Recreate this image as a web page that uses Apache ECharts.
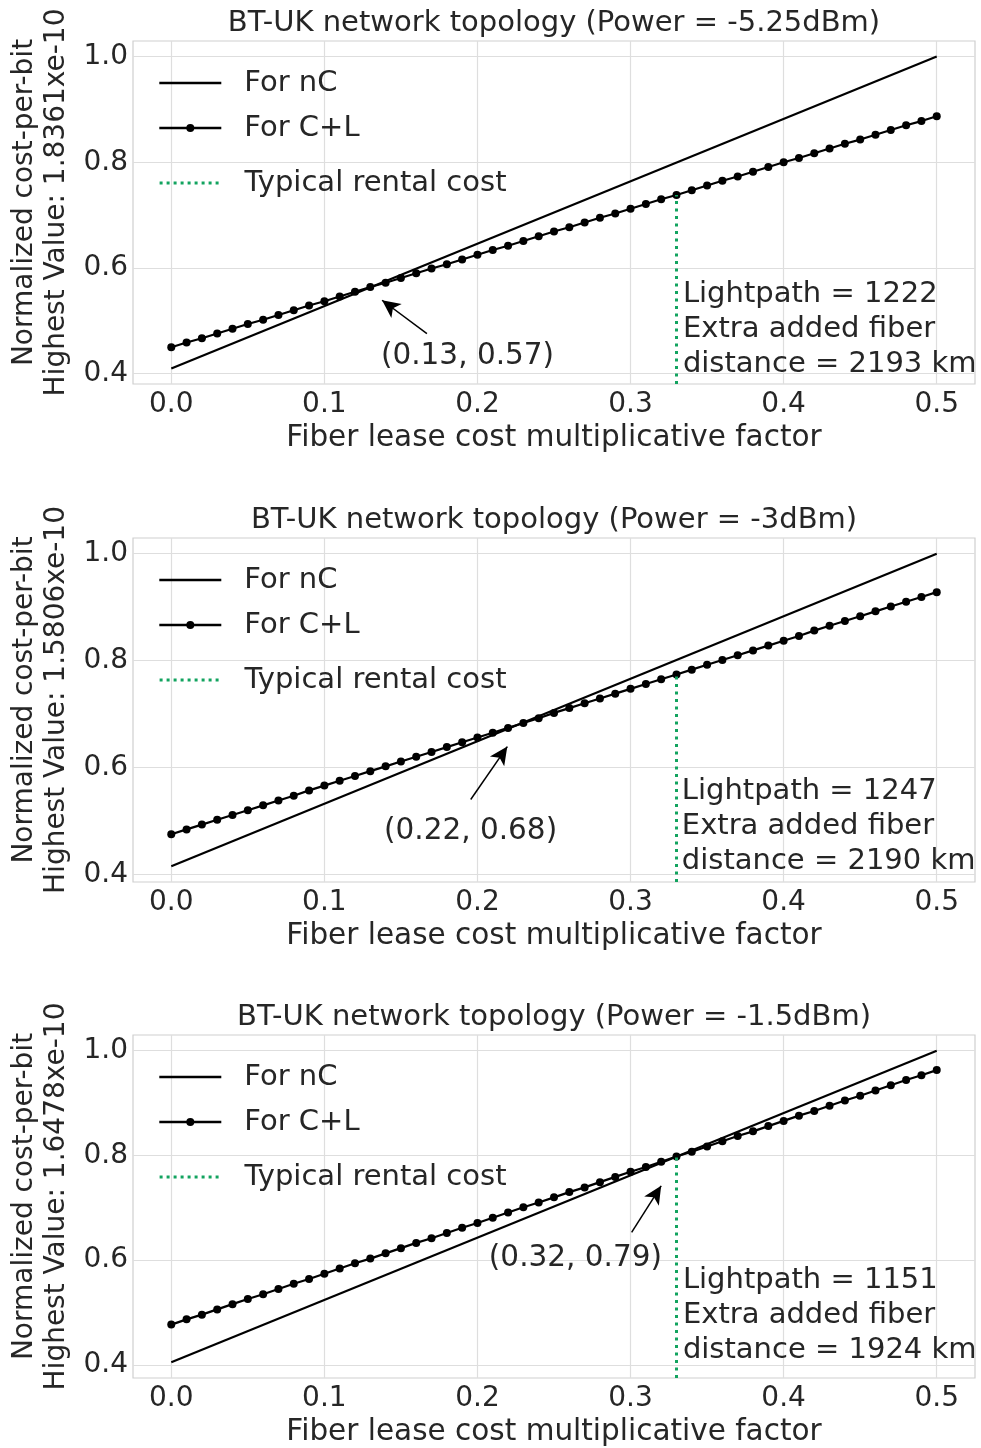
<!DOCTYPE html>
<html>
<head>
<meta charset="utf-8">
<script src="https://cdn.jsdelivr.net/npm/echarts@6/dist/echarts.min.js"></script>
<style>
  html, body { margin: 0; padding: 0; background: #ffffff; }
  #chart { width: 981px; height: 1448px; }
</style>
</head>
<body>
<div id="chart"></div>
<script>
// Fiber lease cost multiplicative factor (x samples of the C+L curves)
const factor = [
  0.00, 0.01, 0.02, 0.03, 0.04, 0.05, 0.06, 0.07, 0.08, 0.09,
  0.10, 0.11, 0.12, 0.13, 0.14, 0.15, 0.16, 0.17, 0.18, 0.19,
  0.20, 0.21, 0.22, 0.23, 0.24, 0.25, 0.26, 0.27, 0.28, 0.29,
  0.30, 0.31, 0.32, 0.33, 0.34, 0.35, 0.36, 0.37, 0.38, 0.39,
  0.40, 0.41, 0.42, 0.43, 0.44, 0.45, 0.46, 0.47, 0.48, 0.49,
  0.50
];

// Normalized cost-per-bit for C+L, one array per launch power
const clPower525 = [
  0.450, 0.459, 0.467, 0.476, 0.485, 0.494, 0.502, 0.511, 0.520, 0.529,
  0.537, 0.546, 0.555, 0.564, 0.572, 0.581, 0.590, 0.599, 0.607, 0.616,
  0.625, 0.634, 0.642, 0.651, 0.660, 0.669, 0.677, 0.686, 0.695, 0.703,
  0.712, 0.721, 0.730, 0.738, 0.747, 0.756, 0.765, 0.773, 0.782, 0.791,
  0.800, 0.808, 0.817, 0.826, 0.835, 0.843, 0.852, 0.861, 0.870, 0.878,
  0.887
];
const clPower3 = [
  0.475, 0.484, 0.493, 0.502, 0.511, 0.520, 0.529, 0.538, 0.547, 0.557,
  0.566, 0.575, 0.584, 0.593, 0.602, 0.611, 0.620, 0.629, 0.638, 0.647,
  0.656, 0.665, 0.674, 0.683, 0.692, 0.702, 0.711, 0.720, 0.729, 0.738,
  0.747, 0.756, 0.765, 0.774, 0.783, 0.792, 0.801, 0.810, 0.819, 0.828,
  0.837, 0.846, 0.856, 0.865, 0.874, 0.883, 0.892, 0.901, 0.910, 0.919,
  0.928
];
const clPower15 = [
  0.477, 0.487, 0.496, 0.506, 0.516, 0.526, 0.535, 0.545, 0.555, 0.564,
  0.574, 0.584, 0.594, 0.603, 0.613, 0.623, 0.633, 0.642, 0.652, 0.662,
  0.671, 0.681, 0.691, 0.701, 0.710, 0.720, 0.730, 0.739, 0.749, 0.759,
  0.769, 0.778, 0.788, 0.798, 0.807, 0.817, 0.827, 0.837, 0.846, 0.856,
  0.866, 0.876, 0.885, 0.895, 0.905, 0.914, 0.924, 0.934, 0.944, 0.953,
  0.963
];

// nC is a straight line: values at factor 0 and 0.5
const ncFactor = [0.0, 0.5];
const ncPower525 = [0.410, 1.000];
const ncPower3 = [0.415, 1.000];
const ncPower15 = [0.405, 1.000];

// Per-panel labels
const powers = ['-5.25', '-3', '-1.5'];
const highestValues = ['1.8361', '1.5806', '1.6478'];
const lightpaths = [1222, 1247, 1151];
const extraDistanceKm = [2193, 2190, 1924];
const crossings = [[0.13, 0.57], [0.22, 0.68], [0.32, 0.79]];
const typicalRental = 0.33;

// Axis ticks
const xTicks = [0.0, 0.1, 0.2, 0.3, 0.4, 0.5];
const yTicks = [0.4, 0.6, 0.8, 1.0];

const clSeries = [clPower525, clPower3, clPower15];
const ncSeries = [ncPower525, ncPower3, ncPower15];

// Layout
const FONT = 'DejaVu Sans';
const TEXT = '#262626';
const gridTops = [41, 538, 1035];
const gridHeights = [343, 344, 344];
const gridLeft = 133, gridWidth = 842;
const xRange = [-0.025, 0.525];
const yRanges = [[0.3805, 1.0295], [0.3856, 1.0293], [0.3750, 1.0300]];
const GREEN = '#12a35f';

// annotation geometry per panel (data coordinates): arrow tail, arrow tip, label centre, info text anchor
const arrowGeom = [
  { tail: [0.167, 0.476], tip: [0.1377, 0.539], label: [0.1935, 0.432], info: [0.3342, 0.4840] },
  { tail: [0.1956, 0.540], tip: [0.2195, 0.639], label: [0.1955, 0.4810], info: [0.3335, 0.4890] },
  { tail: [0.3007, 0.653], tip: [0.3200, 0.742], label: [0.2640, 0.604], info: [0.3342, 0.4950] }
];

const grid = [], xAxis = [], yAxis = [], series = [], title = [], legend = [];

for (let p = 0; p < 3; p++) {
  const cl = clSeries[p];
  const nc = ncSeries[p];
  const g = arrowGeom[p];

  grid.push({
    left: gridLeft, width: gridWidth, top: gridTops[p], height: gridHeights[p],
    show: true, borderColor: '#cfcfcf', borderWidth: 1.2, backgroundColor: 'transparent'
  });

  title.push({
    text: 'BT-UK network topology (Power = ' + powers[p] + 'dBm)',
    left: gridLeft + gridWidth / 2, top: gridTops[p] - 35, textAlign: 'center',
    padding: 0,
    textStyle: { fontFamily: FONT, fontSize: 29, fontWeight: 'normal', color: TEXT, lineHeight: 34 }
  });

  xAxis.push({
    type: 'value', gridIndex: p, min: xRange[0], max: xRange[1],
    name: 'Fiber lease cost multiplicative factor',
    nameLocation: 'middle', nameGap: 39,
    nameTextStyle: { fontFamily: FONT, fontSize: 29.5, color: TEXT },
    axisLine: { show: false },
    axisTick: { show: false, customValues: xTicks },
    axisLabel: {
      customValues: xTicks, fontFamily: FONT, fontSize: 28, color: TEXT, margin: 7,
      formatter: v => v.toFixed(1)
    },
    splitLine: { show: true, lineStyle: { color: '#dedede', width: 1.2 } }
  });

  yAxis.push({
    type: 'value', gridIndex: p, min: yRanges[p][0], max: yRanges[p][1],
    name: 'Normalized cost-per-bit\nHighest Value: ' + highestValues[p] + 'xe-10',
    nameLocation: 'middle', nameRotate: 90, nameGap: 55,
    nameTextStyle: { fontFamily: FONT, fontSize: 28, color: TEXT, lineHeight: 32, padding: [0, 0, 0, 20] },
    axisLine: { show: false },
    axisTick: { show: false, customValues: yTicks },
    axisLabel: {
      customValues: yTicks, fontFamily: FONT, fontSize: 28, color: TEXT, margin: 5,
      formatter: v => v.toFixed(1)
    },
    splitLine: { show: true, lineStyle: { color: '#dedede', width: 1.2 } }
  });

  // nC straight line
  series.push({
    name: 'For nC', type: 'line', xAxisIndex: p, yAxisIndex: p,
    data: ncFactor.map((x, i) => [x, nc[i]]),
    symbol: 'none', lineStyle: { color: '#000000', width: 2.2 }, itemStyle: { color: '#000000' },
    z: 3
  });

  // C+L with markers, also carries the crossing annotation
  series.push({
    name: 'For C+L', type: 'line', xAxisIndex: p, yAxisIndex: p,
    data: factor.map((x, i) => [x, cl[i]]),
    symbol: 'circle', symbolSize: 8, showSymbol: true,
    lineStyle: { color: '#000000', width: 2.2 }, itemStyle: { color: '#000000' },
    z: 4,
    markLine: {
      silent: true, animation: false,
      symbol: ['none', 'arrow'], symbolSize: [13, 18],
      lineStyle: { color: '#000000', width: 1.5, type: 'solid' },
      label: { show: false },
      data: [[{ coord: g.tail }, { coord: g.tip }]]
    },
    markPoint: {
      silent: true, animation: false,
      symbol: 'circle', symbolSize: 0,
      data: [
        {
          coord: g.label,
          label: {
            show: true, position: 'inside', align: 'center', verticalAlign: 'middle',
            formatter: '(' + crossings[p][0].toFixed(2) + ', ' + crossings[p][1].toFixed(2) + ')',
            fontFamily: FONT, fontSize: 29.5, color: TEXT
          }
        },
        {
          coord: g.info,
          label: {
            show: true, position: 'right', distance: 0, align: 'left', verticalAlign: 'middle',
            formatter: 'Lightpath = ' + lightpaths[p] + '\nExtra added fiber\ndistance = ' + extraDistanceKm[p] + ' km',
            fontFamily: FONT, fontSize: 29, color: TEXT, lineHeight: 35
          }
        }
      ]
    }
  });

  // typical rental cost: vertical dotted line up to the C+L curve
  const rentalIdx = factor.indexOf(typicalRental);
  series.push({
    name: 'Typical rental cost', type: 'line', xAxisIndex: p, yAxisIndex: p,
    data: [[typicalRental, yRanges[p][0]], [typicalRental, cl[rentalIdx]]],
    symbol: 'none', lineStyle: { color: GREEN, width: 3, type: [3, 4.5], cap: 'butt' },
    itemStyle: { color: GREEN },
    z: 5
  });

  const legendText = { fontFamily: FONT, fontSize: 29, color: TEXT, lineHeight: 30, padding: [0, 0, 0, 18] };
  legend.push({
    data: [
      { name: 'For nC', itemStyle: { opacity: 0 }, lineStyle: { width: 2.6 } },
      { name: 'For C+L', lineStyle: { width: 2.6 } }
    ],
    orient: 'vertical', left: 158, top: gridTops[p] + 27,
    padding: 0, itemWidth: 62, itemHeight: 10, itemGap: 15, selectedMode: false,
    textStyle: legendText
  });
  legend.push({
    data: [{ name: 'Typical rental cost', itemStyle: { opacity: 0 }, lineStyle: { width: 3.2, color: GREEN, type: [3, 4] } }],
    orient: 'vertical', left: 158, top: gridTops[p] + 127,
    padding: 0, itemWidth: 62, itemHeight: 10, selectedMode: false,
    textStyle: legendText
  });
}

const chart = echarts.init(document.getElementById('chart'), null, { renderer: 'canvas' });
chart.setOption({
  backgroundColor: '#ffffff',
  animation: false,
  title, grid, xAxis, yAxis, legend, series
});
</script>
</body>
</html>
